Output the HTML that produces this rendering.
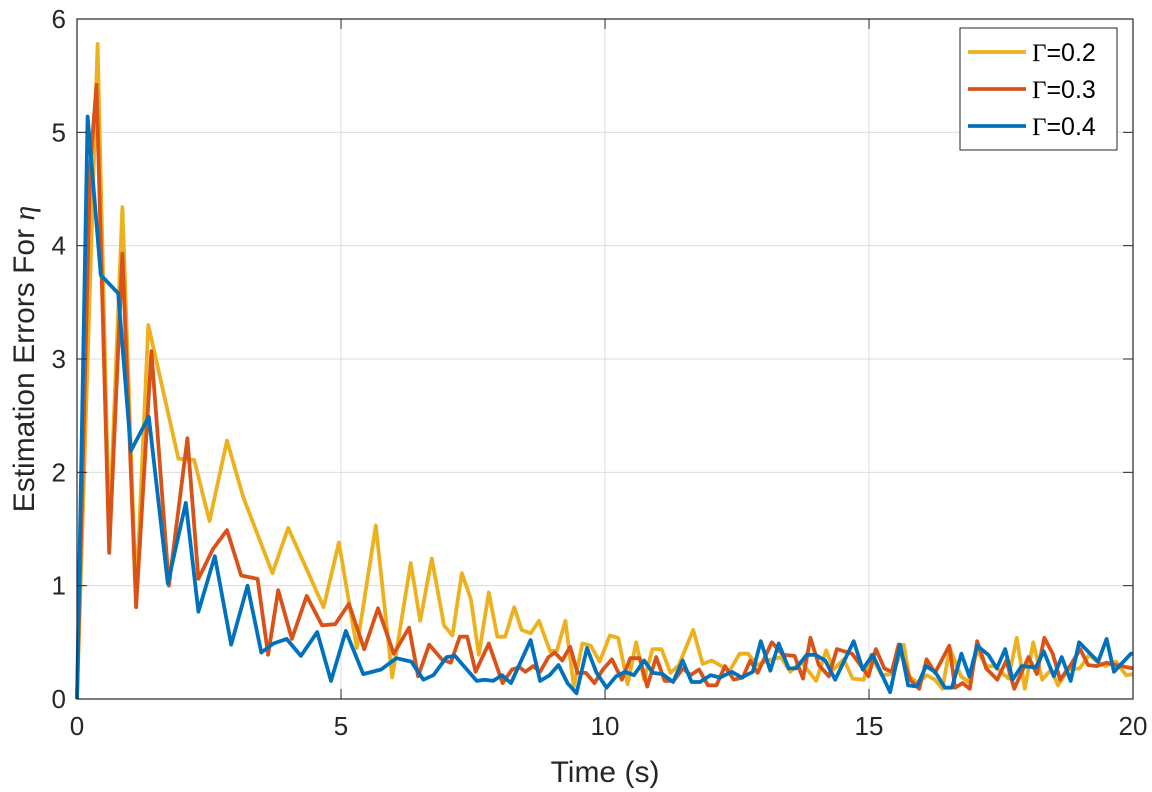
<!DOCTYPE html>
<html><head><meta charset="utf-8"><style>
html,body{margin:0;padding:0;background:#fff;}
svg{display:block;font-family:"Liberation Sans",Arial,sans-serif;}
</style></head><body>
<svg id="chart" width="1152" height="792" viewBox="0 0 1152 792" xmlns="http://www.w3.org/2000/svg">
<g id="grid"></g>
<g id="series"></g>
<g id="axes"></g>
<text x="605" y="782" font-size="30" text-anchor="middle" fill="#262626">Time (s)</text>
<text transform="translate(34,359) rotate(-90)" font-size="30" text-anchor="middle" fill="#262626">Estimation Errors For <tspan font-family="Liberation Serif" font-style="italic">η</tspan></text>
<g>
<rect x="960" y="28" width="157" height="122" fill="#fff" stroke="#262626" stroke-width="1"/>
<g><line x1="968" y1="52" x2="1026" y2="52" stroke="#EDB120" stroke-width="3.8"/><text x="1032" y="61" font-size="25" fill="#000"><tspan font-family="Liberation Serif">Γ</tspan>=0.2</text></g>
<g><line x1="968" y1="89" x2="1026" y2="89" stroke="#D95319" stroke-width="3.8"/><text x="1032" y="98" font-size="25" fill="#000"><tspan font-family="Liberation Serif">Γ</tspan>=0.3</text></g>
<g><line x1="968" y1="126" x2="1026" y2="126" stroke="#0072BD" stroke-width="3.8"/><text x="1032" y="135" font-size="25" fill="#000"><tspan font-family="Liberation Serif">Γ</tspan>=0.4</text></g>
</g>
</svg>
<script>
const xTicks=[0,5,10,15,20];
const yTicks=[0,1,2,3,4,5,6];
const seriesNames=["gamma-0.2","gamma-0.3","gamma-0.4"];
const seriesColors=["#EDB120","#D95319","#0072BD"];
const yellowX=[0,0.39,0.61,0.86,1.12,1.35,1.92,2.22,2.51,2.84,3.15,3.70,4.0,4.67,4.96,5.30,5.66,5.97,6.32,6.50,6.72,6.95,7.11,7.29,7.46,7.61,7.80,7.96,8.11,8.28,8.42,8.59,8.75,8.96,9.09,9.25,9.41,9.57,9.73,9.90,10.09,10.25,10.43,10.59,10.74,10.90,11.07,11.24,11.40,11.67,11.85,12.02,12.36,12.55,12.71,12.88,13.08,13.33,13.51,13.71,14.0,14.19,14.33,14.52,14.69,14.90,15.04,15.24,15.45,15.66,15.76,15.93,16.09,16.25,16.39,16.53,16.74,16.88,17.05,17.22,17.38,17.64,17.80,17.95,18.11,18.28,18.45,18.58,18.77,18.99,19.17,19.34,19.48,19.68,19.87,20.0];
const yellowY=[0,5.78,1.45,4.34,0.88,3.30,2.12,2.11,1.57,2.28,1.78,1.11,1.51,0.81,1.38,0.45,1.53,0.19,1.20,0.69,1.24,0.65,0.56,1.11,0.88,0.39,0.94,0.55,0.55,0.81,0.61,0.58,0.69,0.42,0.43,0.69,0.11,0.49,0.47,0.33,0.56,0.54,0.13,0.50,0.17,0.44,0.44,0.23,0.30,0.61,0.31,0.34,0.25,0.40,0.40,0.30,0.34,0.37,0.24,0.33,0.16,0.43,0.26,0.35,0.18,0.17,0.39,0.21,0.22,0.48,0.20,0.14,0.21,0.17,0.09,0.45,0.20,0.15,0.43,0.29,0.29,0.18,0.54,0.09,0.50,0.17,0.26,0.12,0.26,0.27,0.39,0.32,0.29,0.33,0.21,0.22];
const redX=[0,0.25,0.37,0.61,0.86,1.12,1.41,1.74,2.09,2.30,2.57,2.84,3.11,3.42,3.62,3.81,4.07,4.35,4.64,4.89,5.15,5.44,5.70,6.0,6.29,6.46,6.67,6.91,7.08,7.25,7.39,7.55,7.80,8.06,8.24,8.38,8.49,8.64,8.77,8.93,9.05,9.19,9.34,9.48,9.64,9.80,9.96,10.13,10.32,10.48,10.66,10.80,10.97,11.13,11.30,11.48,11.62,11.78,11.95,12.11,12.27,12.44,12.61,12.75,12.89,13.16,13.37,13.59,13.75,13.89,14.05,14.24,14.39,14.68,14.99,15.13,15.29,15.43,15.56,15.78,15.95,16.09,16.25,16.52,16.63,16.77,16.91,17.05,17.22,17.43,17.60,17.75,18.02,18.18,18.32,18.48,18.62,18.82,19.0,19.15,19.31,19.50,19.67,20.0];
const redY=[0,4.7,5.42,1.29,3.93,0.81,3.07,1.0,2.30,1.06,1.32,1.49,1.09,1.06,0.39,0.96,0.53,0.91,0.65,0.66,0.84,0.44,0.80,0.40,0.63,0.20,0.48,0.35,0.32,0.55,0.55,0.24,0.49,0.14,0.26,0.28,0.24,0.29,0.24,0.37,0.41,0.34,0.46,0.23,0.23,0.14,0.26,0.35,0.17,0.36,0.36,0.11,0.37,0.16,0.16,0.27,0.21,0.26,0.12,0.12,0.29,0.17,0.19,0.34,0.23,0.50,0.39,0.38,0.18,0.54,0.30,0.20,0.44,0.40,0.20,0.44,0.27,0.24,0.48,0.17,0.09,0.35,0.23,0.47,0.10,0.14,0.09,0.51,0.27,0.17,0.34,0.09,0.37,0.22,0.54,0.40,0.17,0.30,0.44,0.30,0.29,0.32,0.30,0.27];
const blueX=[0,0.2,0.45,0.78,1.02,1.36,1.72,2.06,2.30,2.61,2.92,3.23,3.49,3.72,3.97,4.24,4.55,4.81,5.09,5.42,5.76,6.05,6.33,6.56,6.75,7.0,7.16,7.57,7.72,7.88,8.05,8.22,8.59,8.77,8.95,9.12,9.29,9.46,9.66,9.84,10.03,10.21,10.38,10.55,10.74,10.91,11.09,11.29,11.47,11.64,11.80,12.0,12.18,12.40,12.59,12.80,12.95,13.13,13.29,13.48,13.62,13.82,13.98,14.17,14.36,14.71,14.88,15.07,15.40,15.59,15.74,15.91,16.08,16.25,16.44,16.57,16.75,16.90,17.05,17.26,17.42,17.58,17.72,17.89,18.16,18.31,18.50,18.65,18.82,18.98,19.19,19.34,19.50,19.64,19.96,20.0];
const blueY=[0,5.14,3.74,3.58,2.19,2.49,1.02,1.73,0.77,1.26,0.48,1.0,0.41,0.49,0.53,0.38,0.59,0.16,0.60,0.22,0.26,0.36,0.33,0.17,0.21,0.37,0.38,0.16,0.17,0.16,0.21,0.14,0.52,0.16,0.21,0.30,0.14,0.05,0.45,0.23,0.10,0.20,0.24,0.21,0.34,0.23,0.22,0.15,0.34,0.15,0.15,0.21,0.19,0.24,0.19,0.24,0.51,0.25,0.49,0.27,0.27,0.39,0.39,0.34,0.17,0.51,0.26,0.39,0.06,0.48,0.12,0.11,0.29,0.24,0.10,0.10,0.40,0.20,0.47,0.39,0.27,0.44,0.17,0.29,0.28,0.42,0.20,0.37,0.16,0.50,0.40,0.33,0.53,0.24,0.40,0.40];
const L=77,R=1133,T=19,B=699;
function sx(v){return L+(v-0)/(20-0)*(R-L);}
function sy(v){return B-(v-0)/(6-0)*(B-T);}
const NS="http://www.w3.org/2000/svg";
function mk(tag,attrs,parent){const e=document.createElementNS(NS,tag);for(const k in attrs)e.setAttribute(k,attrs[k]);parent.appendChild(e);return e;}
const grid=document.getElementById('grid'),axes=document.getElementById('axes'),ser=document.getElementById('series');
mk('rect',{x:L,y:T,width:R-L,height:B-T,fill:'#fff'},grid);
xTicks.forEach(t=>{
  const g=mk('line',{x1:sx(t),x2:sx(t),y1:T,y2:B,stroke:'#dcdcdc','stroke-width':1},grid);
  
  
  mk('line',{x1:sx(t),x2:sx(t),y1:B,y2:B-10,stroke:'#262626','stroke-width':1},axes);
  mk('line',{x1:sx(t),x2:sx(t),y1:T,y2:T+10,stroke:'#262626','stroke-width':1},axes);
  const lb=mk('text',{x:sx(t),y:B+36,'font-size':26,'text-anchor':'middle',fill:'#262626'},axes);
  lb.textContent=t;
  
  
});
yTicks.forEach(t=>{
  const g=mk('line',{x1:L,x2:R,y1:sy(t),y2:sy(t),stroke:'#dcdcdc','stroke-width':1},grid);
  
  
  mk('line',{x1:L,x2:L+10,y1:sy(t),y2:sy(t),stroke:'#262626','stroke-width':1},axes);
  mk('line',{x1:R,x2:R-10,y1:sy(t),y2:sy(t),stroke:'#262626','stroke-width':1},axes);
  const lb=mk('text',{x:L-11,y:sy(t)+9,'font-size':26,'text-anchor':'end',fill:'#262626'},axes);
  lb.textContent=t;
  
  
});
const box=mk('rect',{x:L,y:T,width:R-L,height:B-T,fill:'none',stroke:'#262626','stroke-width':1.2},axes);


const allX=[yellowX,redX,blueX],allY=[yellowY,redY,blueY];
for(let s=0;s<3;s++){
  const pts=allX[s].map((x,i)=>sx(x).toFixed(1)+','+sy(allY[s][i]).toFixed(1)).join(' ');
  const p=mk('polyline',{points:pts,fill:'none',stroke:seriesColors[s],'stroke-width':3.8,'stroke-linejoin':'round'},ser);
  
  
}
</script>
</body></html>
